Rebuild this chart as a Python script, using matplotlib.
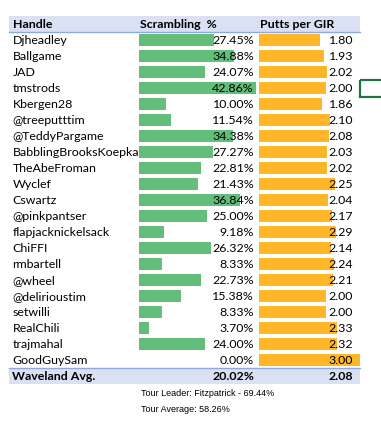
import matplotlib.pyplot as plt
from matplotlib.patches import Rectangle

handles = ["Djheadley", "Ballgame", "JAD", "tmstrods", "Kbergen28", "@treeputttim",
           "@TeddyPargame", "BabblingBrooksKoepka", "TheAbeFroman", "Wyclef", "Cswartz",
           "@pinkpantser", "flapjacknickelsack", "ChiFFI", "rmbartell", "@wheel",
           "@delirioustim", "setwilli", "RealChili", "trajmahal", "GoodGuySam"]
scrambling = [27.45, 34.88, 24.07, 42.86, 10.00, 11.54, 34.38, 27.27, 22.81, 21.43, 36.84,
              25.00, 9.18, 26.32, 8.33, 22.73, 15.38, 8.33, 3.70, 24.00, 0.00]
putts = [1.80, 1.93, 2.02, 2.00, 1.86, 2.10, 2.08, 2.03, 2.02, 2.25, 2.04,
         2.17, 2.29, 2.14, 2.24, 2.21, 2.00, 2.00, 2.33, 2.32, 3.00]
headers = ["Handle", "Scrambling  %", "Putts per GIR"]
avg_label = "Waveland Avg."
avg_scrambling = 20.02
avg_putts = 2.08
notes = ["Tour Leader: Fitzpatrick - 69.44%", "Tour Average: 58.26%"]

FONT = "Lato"
FS = 8.9
green = "#63BE7B"
orange = "#FFB628"

fig = plt.figure(figsize=(3.81, 4.21), dpi=100)
ax = fig.add_axes([0, 0, 1, 1])
ax.set_xlim(0, 381)
ax.set_ylim(421, 0)
ax.axis("off")

top = 32
rh = 16
x_name = 12.5
x_scr0, scr_w, scr_max = 139, 117, max(scrambling)
x_put0, put_w, put_max = 259, 101, 3.0
x_scr_txt = 254
x_put_txt = 353

# header band
ax.add_patch(Rectangle((9, 16), 351, 16, color="#D9E1F2", lw=0))
ax.plot([9, 360], [32, 32], color="#8EA9DB", lw=1)
ax.text(x_name, 24.5, headers[0], fontsize=FS, fontweight="bold", family=FONT, va="center")
ax.text(140, 24.5, headers[1], fontsize=FS, fontweight="bold", family=FONT, va="center")
ax.text(260, 24.5, headers[2], fontsize=FS, fontweight="bold", family=FONT, va="center")

ys = [top + rh * i + rh / 2 for i in range(len(handles))]
ax.barh(ys, [v / scr_max * scr_w for v in scrambling], left=x_scr0, height=12,
        color=green, zorder=1)
ax.barh(ys, [v / put_max * put_w for v in putts], left=x_put0, height=12,
        color=orange, zorder=1)

for y, h, s, p in zip(ys, handles, scrambling, putts):
    ax.text(x_name, y + 0.5, h, fontsize=FS, family=FONT, va="center", zorder=3)
    ax.text(x_scr_txt, y + 0.5, f"{s:.2f}%", fontsize=FS, family=FONT, va="center",
            ha="right", zorder=3)
    ax.text(x_put_txt, y + 0.5, f"{p:.2f}", fontsize=FS, family=FONT, va="center",
            ha="right", zorder=3)

# average row
ya = top + rh * len(handles)
ax.add_patch(Rectangle((9, ya), 351, 16, color="#D9E1F2", lw=0))
ax.plot([9, 360], [ya, ya], color="#8EA9DB", lw=1)
ax.text(x_name, ya + 8.5, avg_label, fontsize=FS, fontweight="bold", family=FONT, va="center")
ax.text(x_scr_txt, ya + 8.5, f"{avg_scrambling:.2f}%", fontsize=FS, fontweight="bold",
        family=FONT, va="center", ha="right")
ax.text(x_put_txt, ya + 8.5, f"{avg_putts:.2f}", fontsize=FS, fontweight="bold",
        family=FONT, va="center", ha="right")

# notes
for i, n in enumerate(notes):
    ax.text(141, 394 + 15 * i, n, fontsize=6.5, family="Liberation Sans", va="center")

# selected cell outline
ax.add_patch(Rectangle((360, 80), 30, 17, fill=False, ec="#217346", lw=1.6, zorder=4))

fig.savefig("out.png", dpi=100)
